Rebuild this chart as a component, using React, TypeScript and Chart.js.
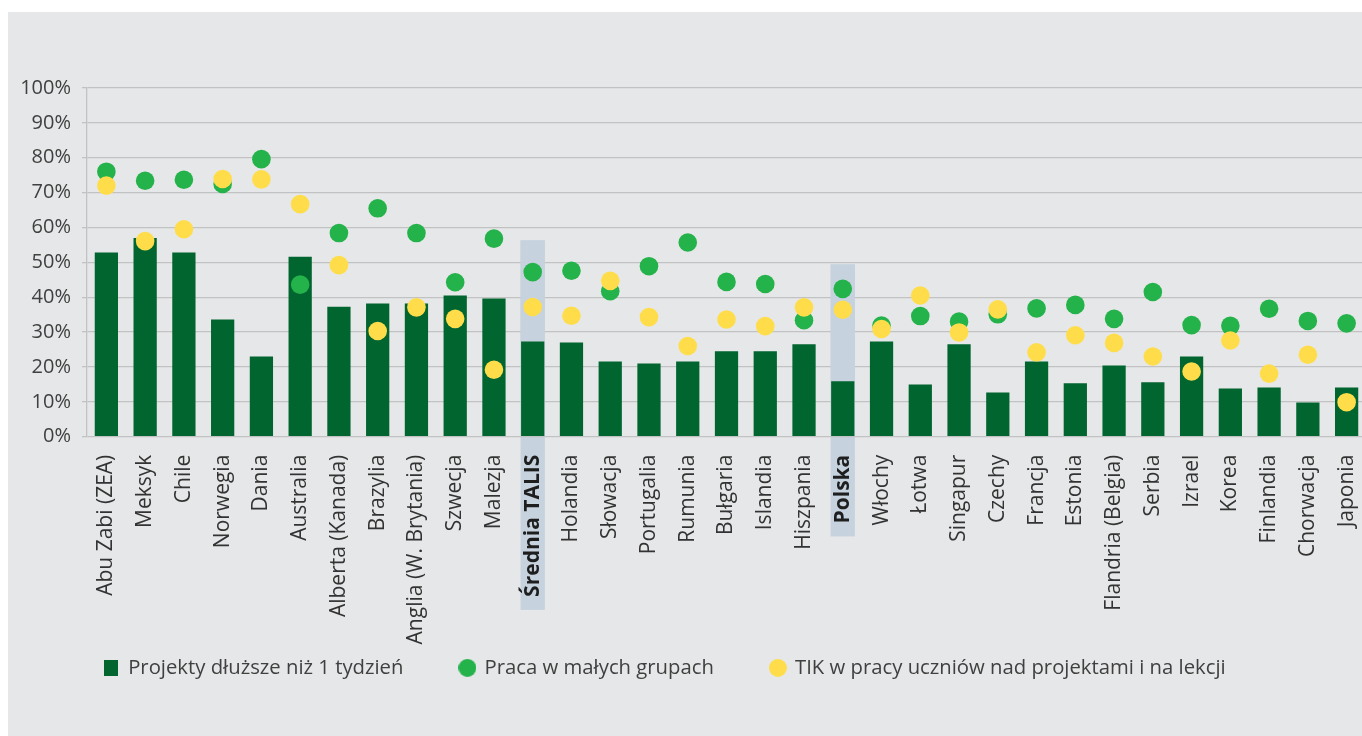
import React, { useEffect, useRef } from 'react';
import { Chart, registerables } from 'chart.js';

Chart.register(...registerables);

// ---------- data ----------
const categories = [
  'Abu Zabi (ZEA)', 'Meksyk', 'Chile', 'Norwegia', 'Dania', 'Australia', 'Alberta (Kanada)', 'Brazylia',
  'Anglia (W. Brytania)', 'Szwecja', 'Malezja', 'Średnia TALIS', 'Holandia', 'Słowacja', 'Portugalia',
  'Rumunia', 'Bułgaria', 'Islandia', 'Hiszpania', 'Polska', 'Włochy', 'Łotwa', 'Singapur', 'Czechy',
  'Francja', 'Estonia', 'Flandria (Belgia)', 'Serbia', 'Izrael', 'Korea', 'Finlandia', 'Chorwacja', 'Japonia',
];

const projectsOverWeek = [
  52.8, 57.0, 52.8, 33.6, 23.0, 51.6, 37.3, 38.2,
  38.2, 40.5, 39.6, 27.3, 27.0, 21.6, 21.0,
  21.6, 24.5, 24.5, 26.5, 15.9, 27.3, 15.0, 26.5, 12.7,
  21.6, 15.3, 20.4, 15.6, 23.0, 13.8, 14.1, 9.8, 14.1,
];

const smallGroups = [
  76.0, 73.4, 73.7, 72.5, 79.6, 43.6, 58.4, 65.5,
  58.4, 44.3, 56.8, 47.2, 47.6, 41.7, 48.9,
  55.7, 44.4, 43.8, 33.4, 42.4, 31.9, 34.6, 33.0, 35.1,
  36.8, 37.8, 33.8, 41.5, 32.0, 31.8, 36.7, 33.2, 32.5,
];

const ictUse = [
  72.0, 56.1, 59.5, 73.9, 73.8, 66.7, 49.2, 30.3,
  37.1, 33.8, 19.2, 37.2, 34.7, 44.7, 34.3,
  26.0, 33.6, 31.7, 37.1, 36.4, 30.9, 40.5, 29.9, 36.5,
  24.2, 29.1, 26.9, 23.0, 18.7, 27.6, 18.1, 23.5, 9.9,
];

const seriesLabels = [
  'Projekty dłuższe niż 1 tydzień',
  'Praca w małych grupach',
  'TIK w pracy uczniów nad projektami i na lekcji',
];

const yTickLabels = ['0%', '10%', '20%', '30%', '40%', '50%', '60%', '70%', '80%', '90%', '100%'];

const highlightedCategories = ['Średnia TALIS', 'Polska'];

// ---------- styles ----------
const FONT = "'Open Sans', sans-serif";
const Y_TICK_SIZE = 20;
const X_TICK_SIZE = 21;
const LEGEND_SIZE = 20.3;
const X_TICK_PAD = 18;
const BG = '#e6e7e8';
const BAR_COLOR = '#00652f';
const GREEN = '#24b24b';
const YELLOW = '#ffdd4a';
const BAND = '#c6d2de';
const GRID = '#c2c2c2';
const BAND_TOPS = [56.3, 49.4]; // top of highlight band, in axis units

function makeMarker(color: string, shape: 'rect' | 'circle', w: number, h: number) {
  const c = document.createElement('canvas');
  c.width = w;
  c.height = h;
  const g = c.getContext('2d')!;
  g.fillStyle = color;
  if (shape === 'rect') {
    g.fillRect(0, 0, w, h);
  } else {
    g.beginPath();
    g.ellipse(w / 2, h / 2, w / 2, h / 2, 0, 0, Math.PI * 2);
    g.fill();
  }
  return c;
}

function drawBands(chart: any, full: boolean) {
  const { ctx, chartArea } = chart;
  const x = chart.scales.x;
  const y = chart.scales.y;
  const meta = chart.getDatasetMeta(0);
  ctx.save();
  ctx.fillStyle = BAND;
  highlightedCategories.forEach((name, k) => {
    const i = categories.indexOf(name);
    if (i < 0) return;
    const cx = x.getPixelForValue(i);
    const bar = meta.data[i];
    const w = (bar && bar.width ? bar.width : 23) + 1;
    const top = y.getPixelForValue(BAND_TOPS[k]);
    ctx.font = `bold ${X_TICK_SIZE}px ${FONT}`;
    const tw = ctx.measureText(name).width;
    const bottom = full ? chartArea.bottom + X_TICK_PAD + tw + 13 : chartArea.bottom - 1;
    ctx.fillRect(cx - w / 2, top, w, bottom - top);
  });
  ctx.restore();
}

const bandPlugin = {
  id: 'highlightBands',
  afterLayout(chart: any) {
    // widen the label clip areas so tick labels can overhang their boxes
    chart.scales.y.left = 0;
    chart.scales.x.bottom = chart.height;
  },
  beforeDraw(chart: any) {
    drawBands(chart, true);
  },
  beforeDatasetsDraw(chart: any) {
    drawBands(chart, false);
  },
};

export default function App() {
  const ref = useRef<HTMLCanvasElement | null>(null);

  useEffect(() => {
    if (!ref.current) return;
    const markers = [
      makeMarker(BAR_COLOR, 'rect', 14, 16),
      makeMarker(GREEN, 'circle', 18, 18),
      makeMarker(YELLOW, 'circle', 18, 18),
    ];
    const chart = new Chart(ref.current, {
      type: 'bar',
      data: {
        labels: categories,
        datasets: [
          {
            type: 'bar',
            label: seriesLabels[0],
            data: projectsOverWeek,
            backgroundColor: BAR_COLOR,
            borderWidth: 0,
            barPercentage: 0.6,
            categoryPercentage: 1.0,
            order: 3,
          },
          {
            type: 'line',
            label: seriesLabels[1],
            data: smallGroups,
            showLine: false,
            backgroundColor: GREEN,
            borderColor: GREEN,
            borderWidth: 0,
            pointRadius: 9.3,
            pointHoverRadius: 9.3,
            pointBorderWidth: 0,
            clip: false,
            order: 2,
          },
          {
            type: 'line',
            label: seriesLabels[2],
            data: ictUse,
            showLine: false,
            backgroundColor: YELLOW,
            borderColor: YELLOW,
            borderWidth: 0,
            pointRadius: 9.3,
            pointHoverRadius: 9.3,
            pointBorderWidth: 0,
            clip: false,
            order: 1,
          },
        ] as any,
      },
      options: {
        responsive: false,
        animation: false,
        events: [],
        layout: { autoPadding: false, padding: { left: 39, right: 5, top: 76, bottom: 48 } },
        scales: {
          x: {
            grid: { display: false, drawTicks: false },
            border: { display: false },
            ticks: {
              autoSkip: false,
              maxRotation: 90,
              minRotation: 90,
              padding: X_TICK_PAD,
              color: (c: any) => (highlightedCategories.includes(categories[c.index]) ? '#1e1e1e' : '#333333'),
              font: (c: any) => ({
                family: FONT,
                size: X_TICK_SIZE,
                weight: highlightedCategories.includes(categories[c.index]) ? 'bold' : 'normal',
              }),
            },
            afterFit: (s: any) => {
              s.height = 164;
              s.paddingLeft = 0;
              s.paddingRight = 0;
            },
          },
          y: {
            min: 0,
            max: 100,
            ticks: {
              stepSize: 10,
              padding: 11,
              color: '#404040',
              font: { family: FONT, size: Y_TICK_SIZE },
              callback: (_v: any, i: number) => yTickLabels[i],
            },
            grid: { color: GRID, lineWidth: 1.3, tickLength: 5, drawTicks: true },
            border: { display: true, color: GRID, width: 1.3 },
            afterFit: (s: any) => {
              s.width = 40;
              s.paddingTop = 0;
              s.paddingBottom = 0;
            },
          },
        },
        plugins: {
          tooltip: { enabled: false },
          legend: {
            position: 'bottom',
            align: 'start',
            labels: {
              usePointStyle: true,
              boxWidth: 14,
              boxHeight: 16,
              padding: 57,
              color: '#404040',
              font: { family: FONT, size: LEGEND_SIZE },
              sort: (a: any, b: any) => a.datasetIndex - b.datasetIndex,
              generateLabels: (ch: any) => {
                const items = (Chart.defaults.plugins.legend.labels as any).generateLabels(ch);
                return items.map((it: any) => ({ ...it, pointStyle: markers[it.datasetIndex] }));
              },
            },
          },
        },
      } as any,
      plugins: [bandPlugin],
    });
    return () => chart.destroy();
  }, []);

  return (
    <div
      style={{
        position: 'fixed',
        left: 8,
        top: 12,
        width: 1354,
        height: 724,
        overflow: 'hidden',
        background: BG,
      }}
    >
      <canvas ref={ref} width={1363} height={724} style={{ display: 'block' }} />
    </div>
  );
}
